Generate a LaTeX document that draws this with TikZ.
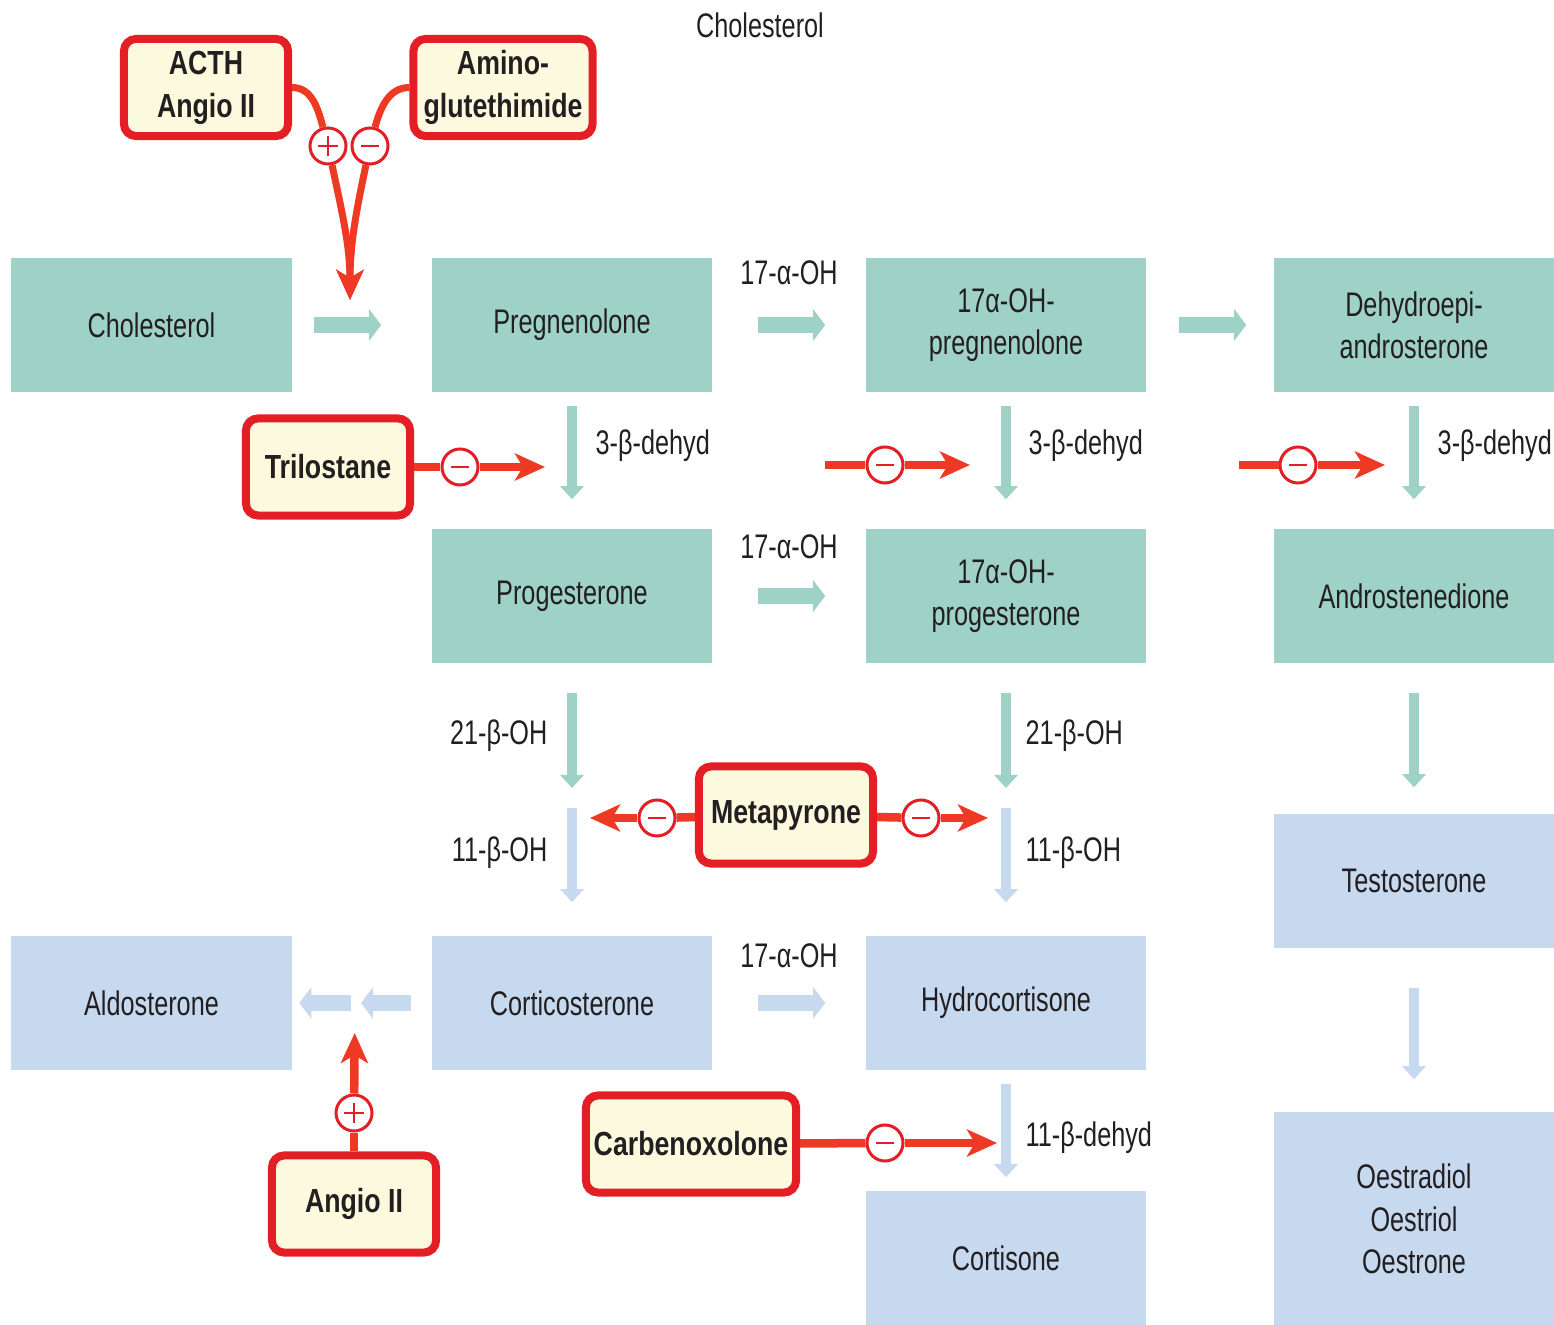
\documentclass[tikz,border=0pt]{standalone}
\usepackage{fontspec}
\setmainfont{Liberation Sans}[FakeStretch=0.74]
\newfontfamily\drugfont{Liberation Sans}[FakeStretch=0.80]
\usetikzlibrary{arrows.meta}

\definecolor{stepteal}{HTML}{9FD2C6}
\definecolor{stepblue}{HTML}{C6D9EE}
\definecolor{drugred}{HTML}{E31E24}
\definecolor{drugfill}{HTML}{FBF9DE}
\definecolor{inhred}{HTML}{EE3A24}
\definecolor{txtgray}{HTML}{231F20}

\begin{document}
\begin{tikzpicture}[x=0.01cm, y=0.01cm,
  steroid/.style={rectangle, minimum width=2.8cm, minimum height=1.34cm, inner sep=0pt, align=center, text=txtgray, font=\fontsize{9.7}{12}\selectfont},
  tealbox/.style={steroid, fill=stepteal},
  bluebox/.style={steroid, fill=stepblue},
  drug/.style={rectangle, rounded corners=0.12cm, draw=drugred, line width=0.08cm, fill=drugfill, minimum height=0.97cm, inner sep=0pt, align=center, text=txtgray, font=\drugfont\bfseries\fontsize{9.5}{12.2}\selectfont},
  enzyme/.style={text=txtgray, font=\fontsize{9.7}{12}\selectfont, inner sep=0pt},
  hteal/.style={draw=stepteal, line width=0.16cm, -{Triangle[width=0.31cm,length=0.12cm]}},
  hblue/.style={hteal, draw=stepblue},
  vteal/.style={draw=stepteal, line width=0.1cm, -{Triangle[width=0.23cm,length=0.13cm]}},
  vblue/.style={vteal, draw=stepblue},
  redline/.style={draw=inhred, line width=0.085cm},
  redarrow/.style={redline, -{Stealth[width=0.27cm,length=0.3cm,inset=0.08cm]}},
  sign/.style={circle, draw=drugred, line width=0.03cm, fill=white, minimum size=0.36cm, inner sep=0pt},
  minuscirc/.style={sign, path picture={\draw[drugred, line width=0.025cm] ([xshift=-0.09cm]path picture bounding box.center) -- ([xshift=0.09cm]path picture bounding box.center);}},
  pluscirc/.style={sign, path picture={\draw[drugred, line width=0.025cm] ([xshift=-0.1cm]path picture bounding box.center) -- ([xshift=0.1cm]path picture bounding box.center) ([yshift=-0.1cm]path picture bounding box.center) -- ([yshift=0.1cm]path picture bounding box.center);}}
]
  \clip (0,0) rectangle (1554,-1325);

  \node[enzyme] (toplbl) at (760,-25) {Cholesterol};

  % Steroids
  \node[tealbox] (chol) at (151.5,-325) {Cholesterol};
  \node[tealbox] (preg) at (572,-325) {Pregnenolone};
  \node[tealbox] (ohpreg) at (1006,-325) {17α-OH-\\pregnenolone};
  \node[tealbox] (dhea) at (1414,-325) {Dehydroepi-\\androsterone};
  \node[tealbox] (prog) at (572,-596) {Progesterone};
  \node[tealbox] (ohprog) at (1006,-596) {17α-OH-\\progesterone};
  \node[tealbox] (andro) at (1414,-596) {Androstenedione};
  \node[bluebox] (testo) at (1414,-881) {Testosterone};
  \node[bluebox] (aldo) at (151.5,-1003) {Aldosterone};
  \node[bluebox] (cortico) at (572,-1003) {Corticosterone};
  \node[bluebox] (hydro) at (1006,-1003) {Hydrocortisone};
  \node[bluebox] (cortis) at (1006,-1258) {Cortisone};
  \node[bluebox, minimum height=2.14cm] (oestro) at (1414,-1219) {Oestradiol\\Oestriol\\Oestrone};

  % Drugs
  \node[drug, minimum width=1.64cm] (acth) at (206,-87.5) {ACTH\\Angio II};
  \node[drug, minimum width=1.79cm] (amino) at (503,-87.5) {Amino-\\glutethimide};
  \node[drug, minimum width=1.64cm] (tril) at (328,-467) {Trilostane};
  \node[drug, minimum width=1.74cm] (meta) at (786,-815) {Metapyrone};
  \node[drug, minimum width=2.1cm] (carbe) at (691,-1144) {Carbenoxolone};
  \node[drug, minimum width=1.64cm] (angio) at (354,-1204) {Angio II};

  % Enzymes
  \node[enzyme] (oh1) at (789,-273) {17-α-OH};
  \node[enzyme] (oh2) at (789,-547) {17-α-OH};
  \node[enzyme] (oh3) at (789,-956) {17-α-OH};
  \node[enzyme, anchor=west] (hsd1) at (595,-446) {3-β-dehyd};
  \node[enzyme, anchor=west] (hsd2) at (1028,-446) {3-β-dehyd};
  \node[enzyme, anchor=west] (hsd3) at (1437,-446) {3-β-dehyd};
  \node[enzyme, anchor=east] (cyp21a) at (548,-736) {21-β-OH};
  \node[enzyme, anchor=east] (cyp11a) at (548,-853) {11-β-OH};
  \node[enzyme, anchor=west] (cyp21b) at (1025,-736) {21-β-OH};
  \node[enzyme, anchor=west] (cyp11b) at (1025,-853) {11-β-OH};
  \node[enzyme, anchor=west] (hsd11) at (1025,-1138) {11-β-dehyd};

  % Points on the steps
  \coordinate (scc) at (350,-300);
  \coordinate (hsdA) at (572,-467);
  \coordinate (hsdB) at (1006,-465);
  \coordinate (hsdC) at (1414,-465);
  \coordinate (splitA) at (572,-798);
  \coordinate (splitB) at (1006,-798);
  \coordinate (cypA) at (572,-818);
  \coordinate (cypB) at (1006,-818);
  \coordinate (hsd11c) at (1006,-1143);
  \coordinate (aldgap) at (355,-1003);
  \coordinate (inhB) at (825,-465);
  \coordinate (inhC) at (1239,-465);

  % Signs
  \node[pluscirc] (pacth) at (328,-146) {};
  \node[minuscirc] (mamino) at (370,-146) {};
  \node[minuscirc] (mtril) at (460,-467) {};
  \node[minuscirc] (mhsdB) at (885,-465) {};
  \node[minuscirc] (mhsdC) at (1298,-465) {};
  \node[minuscirc] (mmetaL) at (657,-818) {};
  \node[minuscirc] (mmetaR) at (921,-818) {};
  \node[minuscirc] (mcarbe) at (885,-1143) {};
  \node[pluscirc] (pangio) at (354,-1113) {};

  % Pathway steps
  \draw[hteal, shorten <=0.22cm, shorten >=0.5cm] (chol) -- (preg);
  \draw[hteal, shorten <=0.45cm, shorten >=0.4cm] (preg) -- (ohpreg);
  \draw[hteal, shorten <=0.32cm, shorten >=0.27cm] (ohpreg) -- (dhea);
  \draw[hteal, shorten <=0.45cm, shorten >=0.4cm] (prog) -- (ohprog);
  \draw[hblue, shorten <=0.45cm, shorten >=0.4cm] (cortico) -- (hydro);
  \draw[hblue, shorten <=0.2cm, shorten >=0.06cm] (cortico) -- (aldgap);
  \draw[hblue, shorten <=0.04cm, shorten >=0.07cm] (aldgap) -- (aldo);
  \draw[vteal, shorten <=0.13cm, shorten >=0.29cm] (preg) -- (prog);
  \draw[vteal, shorten <=0.13cm, shorten >=0.29cm] (ohpreg) -- (ohprog);
  \draw[vteal, shorten <=0.13cm, shorten >=0.29cm] (dhea) -- (andro);
  \draw[vteal, shorten <=0.29cm, shorten >=0.1cm] (prog) -- (splitA);
  \draw[vblue, shorten <=0.1cm, shorten >=0.33cm] (splitA) -- (cortico);
  \draw[vteal, shorten <=0.29cm, shorten >=0.1cm] (ohprog) -- (splitB);
  \draw[vblue, shorten <=0.1cm, shorten >=0.33cm] (splitB) -- (hydro);
  \draw[vteal, shorten <=0.29cm, shorten >=0.26cm] (andro) -- (testo);
  \draw[vblue, shorten <=0.39cm, shorten >=0.32cm] (testo) -- (oestro);
  \draw[vblue, shorten <=0.13cm, shorten >=0.13cm] (hydro) -- (cortis);

  % Stimulation and inhibition
  \draw[redline, line width=0.07cm] (acth.east) to[out=0, in=105] (pacth);
  \draw[redline, line width=0.07cm] (amino.west) to[out=180, in=75] (mamino);
  \draw[redarrow, line width=0.07cm] (pacth) to[out=-78, in=90] (scc);
  \draw[redarrow, line width=0.07cm] (mamino) to[out=-102, in=90] (scc);
  \draw[redline] (tril) -- (mtril);
  \draw[redarrow, shorten >=0.27cm] (mtril) -- (hsdA);
  \draw[redline] (inhB) -- (mhsdB);
  \draw[redarrow, shorten >=0.36cm] (mhsdB) -- (hsdB);
  \draw[redline] (inhC) -- (mhsdC);
  \draw[redarrow, shorten >=0.29cm] (mhsdC) -- (hsdC);
  \draw[redline] (meta) -- (mmetaL);
  \draw[redarrow, shorten >=0.18cm] (mmetaL) -- (cypA);
  \draw[redline] (meta) -- (mmetaR);
  \draw[redarrow, shorten >=0.18cm] (mmetaR) -- (cypB);
  \draw[redline] (carbe) -- (mcarbe);
  \draw[redarrow, shorten >=0.09cm] (mcarbe) -- (hsd11c);
  \draw[redline] (angio) -- (pangio);
  \draw[redarrow, shorten >=0.3cm] (pangio) -- (aldgap);
\end{tikzpicture}
\end{document}
